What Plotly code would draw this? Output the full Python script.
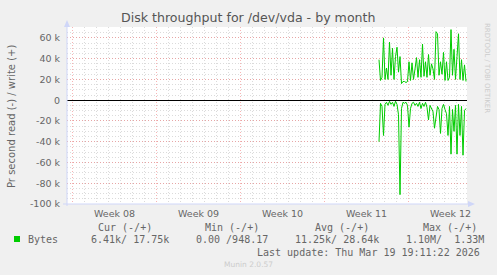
import plotly.graph_objects as go
import pandas as pd

# ---------------- data (kB/s) ----------------
start_time = "2026-03-13 14:00"
step = "3h"
write_k = [39, 19, 22, 60, 20, 31, 20, 56, 24, 50, 20, 42, 51, 27, 42, 16, 18, 18, 17, 18,
           37, 19, 36, 20, 30, 41, 22, 39, 22, 54, 23, 37, 22, 44, 24, 35, 30, 20, 66, 64,
           24, 37, 25, 46, 19, 37, 19, 22, 68, 24, 49, 20, 42, 64, 20, 39, 19, 34, 18]
read_k = [-40, -3, -6, -34, -4, -2, -5, -1, -4, -2, -6, -1, -4, -14, -91, -8, -2, -3, -2, -5,
          -26, -8, -3, -2, -5, -3, -6, -2, -8, -3, -6, -2, -7, -19, -5, -9, -11, -27, -13, -6,
          -9, -32, -8, -4, -9, -13, -34, -6, -52, -9, -30, -5, -52, -4, -34, -6, -53, -10, -8]
week_labels = ["Week 08", "Week 09", "Week 10", "Week 11", "Week 12"]
week_starts = ["2026-02-16", "2026-02-23", "2026-03-02", "2026-03-09", "2026-03-16"]
y_ticks = [60000, 40000, 20000, 0, -20000, -40000, -60000, -80000, -100000]
y_ticktext = ["60 k", "40 k", "20 k", "0", "-20 k", "-40 k", "-60 k", "-80 k", "-100 k"]
legend_headers = ["Cur (-/+)", "Min (-/+)", "Avg (-/+)", "Max (-/+)"]
legend_values = ["6.41k/ 17.75k", "0.00 /948.17", "11.25k/ 28.64k", "1.10M/  1.33M"]
series_name = "Bytes"
last_update = "Last update: Thu Mar 19 19:11:22 2026"

times = pd.date_range(start_time, periods=len(write_k), freq=step)

# ---------------- geometry helpers ----------------
W, H = 497, 275
PL, PR, PT, PB = 67, 467, 27, 204

def fx(x):
    return (x - PL) / (PR - PL)

def fy(y):
    return (PB - y) / (PB - PT)

GREEN = "#00cc00"
FONT = "#666666"
AXISC = "#CFD6F8"
MAJ = "rgba(240,120,120,0.55)"
MIN = "rgba(190,190,190,0.55)"
DASH = "1px,2px"

fig = go.Figure()
fig.add_trace(go.Scatter(x=times, y=[v * 1000 for v in write_k], mode="lines",
                         line=dict(color=GREEN, width=1), hoverinfo="skip"))
fig.add_trace(go.Scatter(x=times, y=[v * 1000 for v in read_k], mode="lines",
                         line=dict(color=GREEN, width=1), hoverinfo="skip"))

fig.update_layout(
    width=W, height=H,
    margin=dict(l=PL, r=W - PR, t=PT, b=H - PB),
    paper_bgcolor="#f0f0f0", plot_bgcolor="#ffffff",
    showlegend=False,
    font=dict(family="DejaVu Sans", color=FONT),
)
fig.update_xaxes(
    type="date", range=["2026-02-15 14:00", "2026-03-20 22:00"],
    tick0="2026-02-16", dtick=7 * 86400000, showticklabels=False,
    showgrid=True, gridcolor=MAJ, griddash=DASH, gridwidth=1,
    minor=dict(dtick=86400000, tick0="2026-02-16", showgrid=True,
               gridcolor=MIN, griddash=DASH, gridwidth=1),
    zeroline=False, showline=False, ticks="",
)
fig.update_yaxes(
    range=[-100000, 70500], tickvals=y_ticks, ticktext=y_ticktext,
    tickfont=dict(size=9.5, color=FONT, family="DejaVu Sans"),
    showgrid=True, gridcolor=MAJ, griddash=DASH, gridwidth=1,
    minor=dict(dtick=5000, showgrid=True, gridcolor=MIN, griddash=DASH, gridwidth=1),
    zeroline=True, zerolinecolor="#000000", zerolinewidth=1,
    showline=False, ticks="", ticklabelstandoff=6,
)

shapes = []
# axis lines with arrows
shapes.append(dict(type="line", xref="paper", yref="paper", x0=fx(67), x1=fx(67),
                   y0=fy(206), y1=fy(25), line=dict(color=AXISC, width=1)))
shapes.append(dict(type="path", xref="paper", yref="paper",
                   path=f"M {fx(64)},{fy(27)} L {fx(70)},{fy(27)} L {fx(67)},{fy(20)} Z",
                   fillcolor=AXISC, line=dict(color=AXISC, width=0)))
shapes.append(dict(type="line", xref="paper", yref="paper", x0=fx(63), x1=fx(470),
                   y0=fy(204), y1=fy(204), line=dict(color=AXISC, width=1)))
shapes.append(dict(type="path", xref="paper", yref="paper",
                   path=f"M {fx(468)},{fy(201)} L {fx(468)},{fy(207)} L {fx(475)},{fy(204)} Z",
                   fillcolor=AXISC, line=dict(color=AXISC, width=0)))
# legend colour box
shapes.append(dict(type="rect", xref="paper", yref="paper", x0=fx(14), x1=fx(20),
                   y0=fy(242), y1=fy(236), fillcolor=GREEN, line=dict(width=0)))
fig.update_layout(shapes=shapes)

ann = []
ann.append(dict(text="Disk throughput for /dev/vda - by month", xref="paper", yref="paper",
                x=fx(248), y=fy(18), xanchor="center", yanchor="middle", showarrow=False,
                font=dict(size=12.6, color="#555555", family="DejaVu Sans")))
ann.append(dict(text="Pr second read (-) / write (+)", xref="paper", yref="paper",
                x=fx(12), y=fy(116), xanchor="center", yanchor="middle", showarrow=False,
                textangle=-90, font=dict(size=10, color=FONT, family="DejaVu Sans")))
ann.append(dict(text="RRDTOOL / TOBI OETIKER", xref="paper", yref="paper",
                x=fx(487), y=fy(68), xanchor="center", yanchor="middle", showarrow=False,
                textangle=90, font=dict(size=7, color="#cccccc", family="DejaVu Sans")))
for lab, ws in zip(week_labels, week_starts):
    xc = pd.Timestamp(ws) + pd.Timedelta(hours=84)
    ann.append(dict(text=lab, xref="x", yref="paper", x=xc, y=fy(213),
                    xanchor="center", yanchor="middle", showarrow=False,
                    font=dict(size=9.5, color=FONT, family="DejaVu Sans")))
mono = dict(size=10, color=FONT, family="DejaVu Sans Mono")
for txt, xc in zip(legend_headers, [125, 232, 341.5, 450]):
    ann.append(dict(text=txt.replace(" ", "&nbsp;"), xref="paper", yref="paper", x=fx(xc), y=fy(227),
                    xanchor="center", yanchor="middle", showarrow=False, font=mono))
ann.append(dict(text=series_name, xref="paper", yref="paper", x=fx(26), y=fy(239),
                xanchor="left", yanchor="middle", showarrow=False, font=mono))
for txt, xl in zip(legend_values, [89, 194, 293, 404]):
    ann.append(dict(text=txt.replace(" ", "&nbsp;"), xref="paper", yref="paper", x=fx(xl), y=fy(239),
                    xanchor="left", yanchor="middle", showarrow=False, font=mono))
ann.append(dict(text=last_update.replace(" ", "&nbsp;"), xref="paper", yref="paper", x=fx(482), y=fy(252),
                xanchor="right", yanchor="middle", showarrow=False, font=mono))
ann.append(dict(text="Munin 2.0.57", xref="paper", yref="paper", x=fx(248), y=fy(264),
                xanchor="center", yanchor="middle", showarrow=False,
                font=dict(size=7.5, color="#cccccc", family="DejaVu Sans")))
fig.update_layout(annotations=ann)

fig.write_html("out.html")
